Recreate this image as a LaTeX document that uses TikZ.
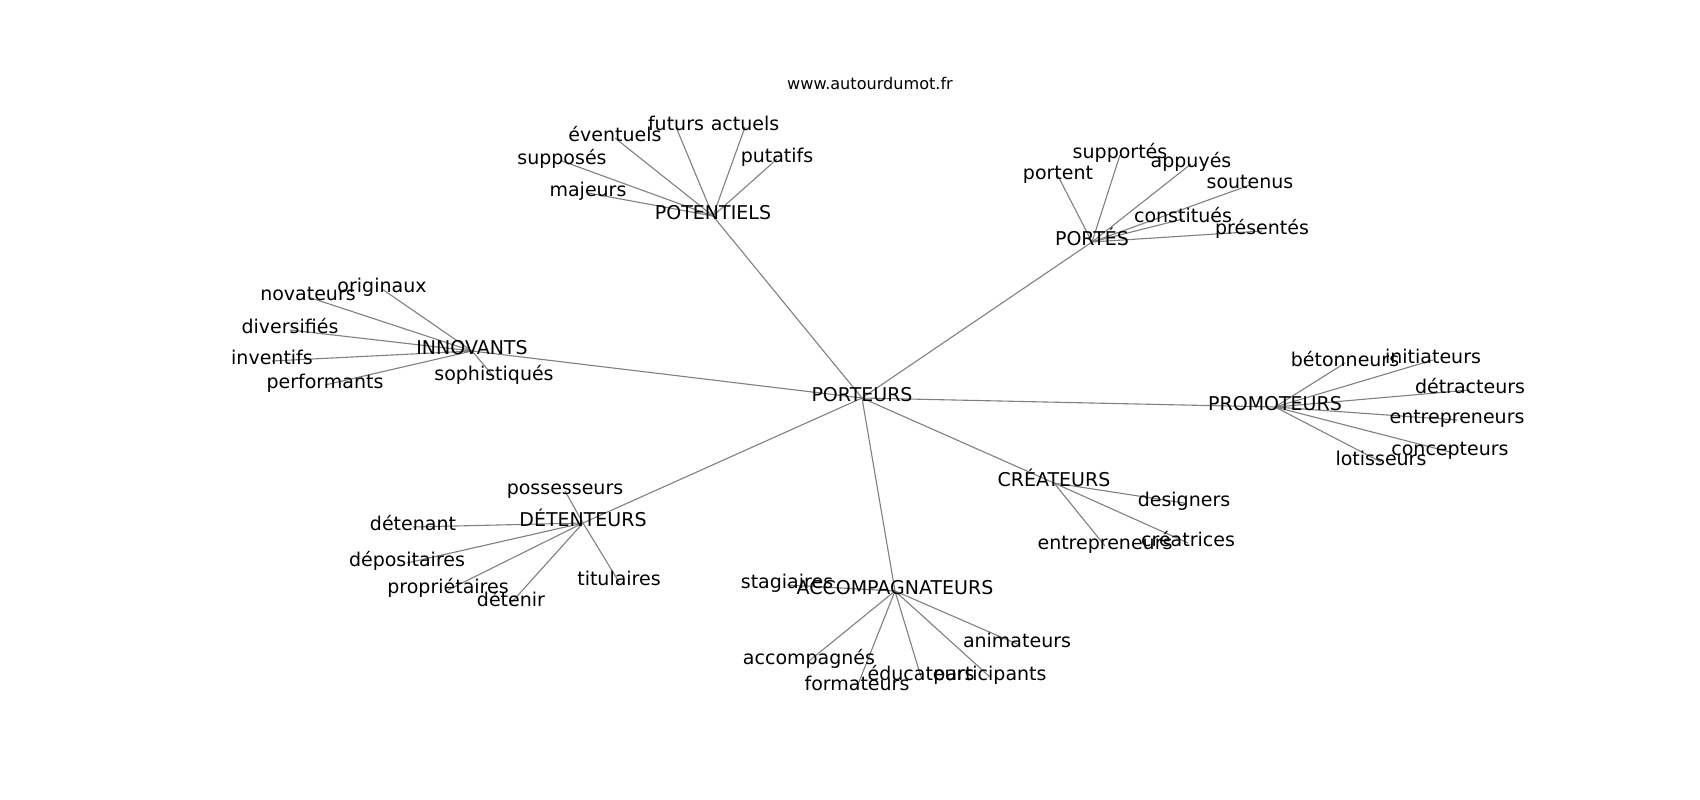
\documentclass[tikz,border=0pt]{standalone}
\usepackage{fontspec}
\setmainfont{DejaVu Sans}
\usetikzlibrary{backgrounds}
\tikzset{
  lbl/.style={inner sep=0pt, text height=0.73em, text depth=0pt, anchor=center, font=\fontsize{19}{22}\selectfont},
  ttl/.style={inner sep=0pt, text height=0.73em, text depth=0pt, anchor=center, font=\fontsize{16.1}{19}\selectfont},
  edge/.style={draw={rgb,255:red,128;green,128;blue,128}, line width=1.1pt}
}
\begin{document}
\begin{tikzpicture}[x=1pt,y=-1pt]
\useasboundingbox (0,0) rectangle (1700,800);
\begin{scope}[shift={(0,4)}]
\node[ttl] (title) at (870,82) {www.autourdumot.fr};
% hubs
\node[lbl] (porteurs) at (862,394) {PORTEURS};
\node[lbl] (potentiels) at (713,212) {POTENTIELS};
\node[lbl] (portes) at (1092,238) {PORTÉS};
\node[lbl] (innovants) at (472,347) {INNOVANTS};
\node[lbl] (promoteurs) at (1275,403) {PROMOTEURS};
\node[lbl] (createurs) at (1054,479) {CRÉATEURS};
\node[lbl] (detenteurs) at (583,519) {DÉTENTEURS};
\node[lbl] (accomp) at (895,587) {ACCOMPAGNATEURS};
% potentiels leaves
\node[lbl] (eventuels) at (615,134) {éventuels};
\node[lbl] (futurs) at (676,123) {futurs};
\node[lbl] (actuels) at (745,123) {actuels};
\node[lbl] (putatifs) at (777,155) {putatifs};
\node[lbl] (supposes) at (562,157) {supposés};
\node[lbl] (majeurs) at (588,189) {majeurs};
% portes leaves
\node[lbl] (portent) at (1058,172) {portent};
\node[lbl] (supportes) at (1120,151) {supportés};
\node[lbl] (appuyes) at (1191,160) {appuyés};
\node[lbl] (soutenus) at (1250,181) {soutenus};
\node[lbl] (constitues) at (1183,215) {constitués};
\node[lbl] (presentes) at (1262,227) {présentés};
% innovants leaves
\node[lbl] (originaux) at (382,285) {originaux};
\node[lbl] (novateurs) at (308,293) {novateurs};
\node[lbl] (diversifies) at (290,326) {diversifiés};
\node[lbl] (inventifs) at (272,357) {inventifs};
\node[lbl] (performants) at (325,381) {performants};
\node[lbl] (sophistiques) at (494,373) {sophistiqués};
% promoteurs leaves
\node[lbl] (betonneurs) at (1345,359) {bétonneurs};
\node[lbl] (initiateurs) at (1433,356) {initiateurs};
\node[lbl] (detracteurs) at (1470,386) {détracteurs};
\node[lbl] (entrepreneursA) at (1457,416) {entrepreneurs};
\node[lbl] (concepteurs) at (1450,448) {concepteurs};
\node[lbl] (lotisseurs) at (1381,458) {lotisseurs};
% createurs leaves
\node[lbl] (designers) at (1184,499) {designers};
\node[lbl] (entrepreneursB) at (1105,542) {entrepreneurs};
\node[lbl] (creatrices) at (1188,539) {créatrices};
% detenteurs leaves
\node[lbl] (possesseurs) at (565,487) {possesseurs};
\node[lbl] (detenant) at (413,523) {détenant};
\node[lbl] (depositaires) at (407,559) {dépositaires};
\node[lbl] (proprietaires) at (448,586) {propriétaires};
\node[lbl] (detenir) at (511,599) {détenir};
\node[lbl] (titulaires) at (619,578) {titulaires};
% accompagnateurs leaves
\node[lbl] (stagiaires) at (787,581) {stagiaires};
\node[lbl] (accompagnes) at (809,657) {accompagnés};
\node[lbl] (formateurs) at (857,683) {formateurs};
\node[lbl] (educateurs) at (921,673) {éducateurs};
\node[lbl] (participants) at (990,673) {participants};
\node[lbl] (animateurs) at (1017,640) {animateurs};
\end{scope}
\begin{pgfonlayer}{background}
\fill[white] (0,0) rectangle (1700,800);
\foreach \h in {potentiels,portes,innovants,promoteurs,createurs,detenteurs,accomp}
  \draw[edge] (porteurs.center) -- (\h.center);
\foreach \l in {eventuels,futurs,actuels,putatifs,supposes,majeurs}
  \draw[edge] (potentiels.center) -- (\l.center);
\foreach \l in {portent,supportes,appuyes,soutenus,constitues,presentes}
  \draw[edge] (portes.center) -- (\l.center);
\foreach \l in {originaux,novateurs,diversifies,inventifs,performants,sophistiques}
  \draw[edge] (innovants.center) -- (\l.center);
\foreach \l in {betonneurs,initiateurs,detracteurs,entrepreneursA,concepteurs,lotisseurs}
  \draw[edge] (promoteurs.center) -- (\l.center);
\foreach \l in {designers,entrepreneursB,creatrices}
  \draw[edge] (createurs.center) -- (\l.center);
\foreach \l in {possesseurs,detenant,depositaires,proprietaires,detenir,titulaires}
  \draw[edge] (detenteurs.center) -- (\l.center);
\foreach \l in {stagiaires,accompagnes,formateurs,educateurs,participants,animateurs}
  \draw[edge] (accomp.center) -- (\l.center);
\end{pgfonlayer}
\end{tikzpicture}
\end{document}
